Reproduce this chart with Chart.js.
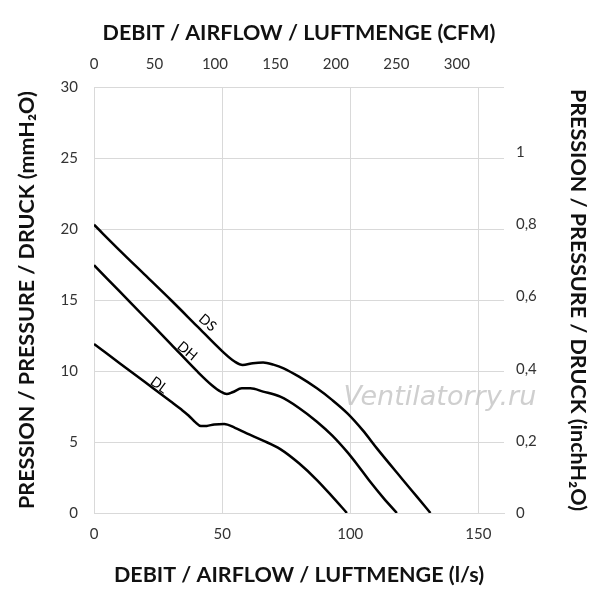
<!DOCTYPE html>
<html>
<head>
<meta charset="utf-8">
<script src="https://cdn.jsdelivr.net/npm/chart.js@4/dist/chart.umd.min.js"></script>
<style>
  html, body { margin: 0; padding: 0; background: #fff; }
  #wrap { width: 600px; height: 600px; }
</style>
</head>
<body>
<div id="wrap"><canvas id="fanChart" width="600" height="600"></canvas></div>
<script>
// curves: airflow in l/s, pressure in mmH2O
const dsFlow = [0, 10, 20, 30, 40, 50, 55, 58, 62, 66, 70, 74, 80, 87, 93, 99, 105, 110.4, 120, 126, 131.3];
const dsPressure = [20.3, 18.5, 16.75, 15.0, 13.2, 11.4, 10.65, 10.42, 10.55, 10.6, 10.45, 10.19, 9.6, 8.78, 7.95, 7.0, 5.8, 4.55, 2.45, 1.15, 0];

const dhFlow = [0, 10, 20, 30, 40.4, 46, 49.5, 51.8, 54, 57.7, 61, 66, 72.7, 80, 87, 93, 98.7, 103, 107.8, 113, 118.2];
const dhPressure = [17.45, 15.6, 13.75, 11.9, 9.95, 9.0, 8.54, 8.38, 8.5, 8.78, 8.78, 8.55, 8.19, 7.4, 6.43, 5.45, 4.32, 3.35, 2.2, 1.05, 0];

const dlFlow = [0, 10, 20, 30, 34, 37, 39.5, 41.7, 44, 46.9, 50.8, 55, 59.6, 66, 72.7, 80, 87, 93, 98.7];
const dlPressure = [11.9, 10.55, 9.2, 7.85, 7.3, 6.85, 6.4, 6.12, 6.13, 6.24, 6.27, 6.0, 5.61, 5.1, 4.5, 3.5, 2.32, 1.15, 0];

const curveNames = ["DS", "DH", "DL"];
// where each curve name sits (l/s, mmH2O)
const labelFlow = [44.3, 36.4, 25.4];
const labelPressure = [13.4, 11.4, 9.0];

const flowMax = 160;       // l/s
const pressureMax = 30;    // mmH2O
const LS_TO_CFM = 2.11888;
const MM_TO_INCH = 1 / 25.4;

const toPoints = (xs, ys) => xs.map((x, i) => ({ x: x, y: ys[i] }));

const tickFont = { family: "Lato, 'Open Sans', sans-serif", size: 15 };
const titleFont = { family: "Lato, 'Open Sans', sans-serif", size: 21.5, weight: "bold" };
const gridColor = "#d9d9d9";
const tickColor = "#333";

const curveStyle = {
  borderColor: "#000",
  borderWidth: 2.5,
  pointRadius: 0,
  fill: false,
  cubicInterpolationMode: "monotone"
};

// names along the curves + the watermark
const annotations = {
  id: "annotations",
  afterDatasetsDraw(chart) {
    const { ctx, scales: { x, y } } = chart;
    ctx.save();
    // watermark
    ctx.font = "italic 27px 'DejaVu Sans', sans-serif";
    ctx.fillStyle = "rgba(195,195,195,0.8)";
    ctx.textAlign = "center";
    ctx.textBaseline = "middle";
    ctx.fillText("Ventilatorry.ru", x.getPixelForValue(135), y.getPixelForValue(8.1));

    ctx.font = "14px Lato, sans-serif";
    ctx.fillStyle = "#000";
    const angles = [40, 40, 36];
    curveNames.forEach((name, i) => {
      ctx.save();
      ctx.translate(x.getPixelForValue(labelFlow[i]), y.getPixelForValue(labelPressure[i]));
      ctx.rotate(angles[i] * Math.PI / 180);
      ctx.fillText(name, 0, 0);
      ctx.restore();
    });
    ctx.restore();
  }
};

new Chart(document.getElementById("fanChart"), {
  type: "line",
  data: {
    datasets: [
      { label: curveNames[0], data: toPoints(dsFlow, dsPressure), ...curveStyle },
      { label: curveNames[1], data: toPoints(dhFlow, dhPressure), ...curveStyle },
      { label: curveNames[2], data: toPoints(dlFlow, dlPressure), ...curveStyle }
    ]
  },
  options: {
    responsive: false,
    animation: false,
    layout: { padding: 0 },
    plugins: { legend: { display: false }, tooltip: { enabled: false } },
    scales: {
      x: {
        type: "linear",
        position: "bottom",
        min: 0,
        max: flowMax,
        afterFit: (s) => { s.height = 87; },
        ticks: { stepSize: 50, includeBounds: false, font: tickFont, color: tickColor, padding: 12, maxRotation: 0 },
        grid: { color: gridColor, drawTicks: false },
        border: { color: gridColor },
        title: { display: true, text: "DEBIT / AIRFLOW / LUFTMENGE (l/s)", font: titleFont, color: "#111", padding: { bottom: 12 } }
      },
      xCfm: {
        type: "linear",
        position: "top",
        min: 0,
        max: flowMax * LS_TO_CFM,
        afterFit: (s) => { s.height = 87; },
        ticks: { stepSize: 50, includeBounds: false, font: tickFont, color: tickColor, padding: 14, maxRotation: 0 },
        grid: { display: false, drawTicks: false },
        border: { display: false },
        title: { display: true, text: "DEBIT / AIRFLOW / LUFTMENGE (CFM)", font: titleFont, color: "#111", padding: { top: 20 } }
      },
      y: {
        type: "linear",
        position: "left",
        min: 0,
        max: pressureMax,
        afterFit: (s) => { s.width = 94; },
        ticks: { stepSize: 5, font: tickFont, color: tickColor, padding: 16 },
        grid: { color: gridColor, drawTicks: false },
        border: { color: gridColor },
        title: { display: true, text: "PRESSION / PRESSURE / DRUCK (mmH₂O)", font: titleFont, color: "#111", padding: { top: 14 } }
      },
      yInch: {
        type: "linear",
        position: "right",
        min: 0,
        max: pressureMax * MM_TO_INCH,
        afterFit: (s) => { s.width = 96; },
        ticks: {
          stepSize: 0.2,
          includeBounds: false,
          font: tickFont,
          color: tickColor,
          padding: 12,
          callback: (v) => String(Math.round(v * 10) / 10).replace(".", ",")
        },
        grid: { display: false, drawTicks: false },
        border: { display: false },
        title: { display: true, text: "PRESSION / PRESSURE / DRUCK (inchH₂O)", font: titleFont, color: "#111", padding: { top: 9 } }
      }
    }
  },
  plugins: [annotations]
});
</script>
</body>
</html>
